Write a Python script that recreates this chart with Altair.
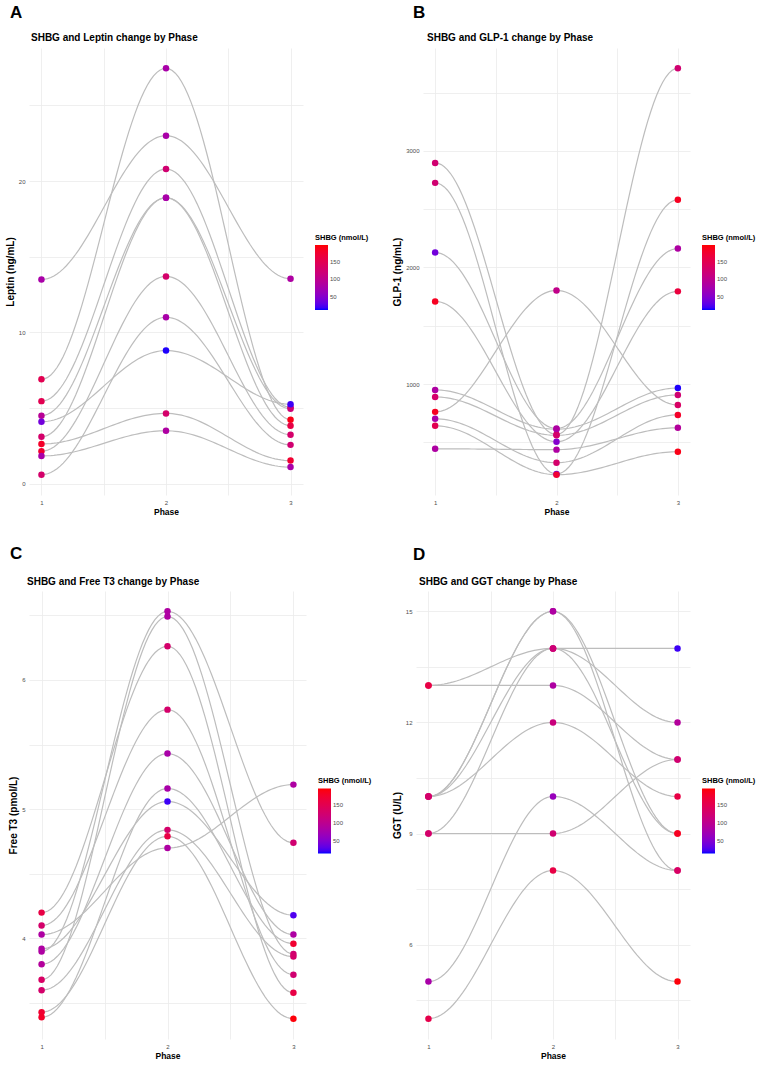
import altair as alt
import pandas as pd

FONT = "Liberation Sans"
PHASES = [1, 2, 3]
SHBG_TICKS = [50, 100, 150]
SHBG_DOMAIN = [13, 198]

# ---- Panel A: Leptin (ng/mL), one entry per subject, same subject order in every list
leptin_p1 = [13.5, 6.9, 5.46, 4.5, 4.1, 3.1, 2.63, 2.15, 1.84, 0.6]
leptin_p2 = [23.0, 27.45, 20.8, 18.9, 8.8, 18.9, 4.65, 13.7, 3.5, 11.0]
leptin_p3 = [13.55, 4.23, 5.05, 4.95, 5.26, 3.84, 1.53, 3.24, 1.1, 2.57]
leptin_shbg_p1 = [80, 150, 150, 95, 40, 130, 180, 175, 80, 130]
leptin_shbg_p2 = [80, 80, 125, 80, 15, 80, 130, 130, 85, 80]
leptin_shbg_p3 = [85, 190, 100, 120, 20, 160, 175, 130, 80, 125]

# ---- Panel B: GLP-1 (ng/mL)
glp1_p1 = [2897, 2726, 2128, 1709, 949, 889, 761, 701, 641, 444]
glp1_p2 = [566, 228, 618, 504, 612, 560, 1803, 325, 222, 437]
glp1_p3 = [3709, 2581, 2162, 1795, 966, 906, 820, 735, 419, 624]
glp1_shbg_p1 = [125, 125, 40, 185, 85, 130, 185, 80, 150, 85]
glp1_shbg_p2 = [130, 45, 85, 50, 85, 130, 105, 130, 175, 85]
glp1_shbg_p3 = [125, 185, 85, 165, 15, 125, 135, 180, 190, 90]

# ---- Panel C: Free T3 (pmol/L)
ft3_p1 = [4.20, 4.10, 4.03, 3.90, 3.80, 3.68, 3.60, 3.43, 3.39, 3.92]
ft3_p2 = [6.26, 5.77, 4.70, 6.53, 5.43, 6.49, 4.84, 4.79, 5.16, 5.06]
ft3_p3 = [3.58, 3.72, 5.19, 4.74, 4.03, 3.88, 3.86, 3.38, 3.96, 4.18]
ft3_shbg_p1 = [160, 130, 85, 85, 90, 135, 130, 175, 180, 85]
ft3_shbg_p2 = [130, 130, 85, 85, 80, 85, 130, 160, 80, 20]
ft3_shbg_p3 = [160, 125, 85, 125, 85, 125, 130, 195, 175, 25]

# ---- Panel D: GGT (U/L)
ggt_p1 = [13, 13, 10, 10, 10, 10, 9, 9, 5, 4]
ggt_p2 = [13, 14, 15, 15, 14, 12, 14, 9, 10, 8]
ggt_p3 = [11, 14, 9, 8, 12, 10, 9, 11, 8, 5]
ggt_shbg_p1 = [160, 160, 130, 130, 130, 130, 130, 130, 80, 155]
ggt_shbg_p2 = [85, 120, 85, 85, 120, 115, 120, 125, 65, 160]
ggt_shbg_p3 = [125, 20, 185, 135, 90, 160, 185, 125, 135, 195]


def panel(letter, letter_pos, title, title_pos, ytitle, vals, shbg,
          ygrid, ystep, width, height):
    n = len(vals[0])
    # long table of measured points
    pts = pd.DataFrame({
        "subject": [s for _ in PHASES for s in range(n)],
        "phase": [p for p in PHASES for _ in range(n)],
        "value": [v for series in vals for v in series],
        "shbg": [c for series in shbg for c in series],
    })
    # one row per subject and phase-to-phase step
    segs = pd.DataFrame([
        {"seg": f"{s}-{k}", "x0": PHASES[k], "x1": PHASES[k + 1],
         "y0": vals[k][s], "y1": vals[k + 1][s]}
        for s in range(n) for k in range(len(PHASES) - 1)
    ])

    lo, hi = pts["value"].min(), pts["value"].max()
    pad = 0.05 * (hi - lo)
    yscale = alt.Scale(domain=[lo - pad, hi + pad], nice=False, zero=False)
    xscale = alt.Scale(domain=[0.9, 3.1], nice=False, zero=False)

    # major + minor grid positions; only the major ones carry a label
    xaxis = alt.Axis(values=[1, 1.5, 2, 2.5, 3], tickCount=50, tickMinStep=0.5,
                     labelExpr="abs(datum.value % 1) < 1e-9 ? format(datum.value, 'd') : ''",
                     labelOverlap=False, titleFontSize=8.5,
                     titlePadding=2, labelPadding=4)
    yaxis = alt.Axis(values=ygrid, tickCount=50,
                     tickMinStep=ygrid[1] - ygrid[0],
                     labelExpr=f"abs(datum.value % {ystep}) < 1e-9 ? format(datum.value, 'd') : ''",
                     labelOverlap=False, titleFontSize=10,
                     titlePadding=3, labelPadding=4)

    # sigmoid connector between consecutive phases
    curves = alt.Chart(segs).transform_calculate(
        t="sequence(0, 1.0001, 0.025)"
    ).transform_flatten(["t"]).transform_calculate(
        px="datum.x0 + datum.t * (datum.x1 - datum.x0)",
        py="datum.y0 + (datum.y1 - datum.y0) * (1 - cos(PI * datum.t)) / 2",
    ).mark_line(color="#bdbdbd", strokeWidth=1.2).encode(
        x=alt.X("px:Q", scale=xscale, axis=xaxis, title="Phase"),
        y=alt.Y("py:Q", scale=yscale, axis=yaxis, title=ytitle),
        detail="seg:N",
        order="px:Q",
    )

    points = alt.Chart(pts).mark_circle(size=42, opacity=1).encode(
        x=alt.X("phase:Q", scale=xscale, axis=xaxis, title="Phase"),
        y=alt.Y("value:Q", scale=yscale, axis=yaxis, title=ytitle),
        color=alt.Color(
            "shbg:Q",
            scale=alt.Scale(domain=SHBG_DOMAIN, range=["#0000ff", "#ff0000"],
                            interpolate="lab"),
            legend=alt.Legend(
                title="SHBG (nmol/L)", orient="none",
                legendX=width + 12, legendY=height / 2 - 38,
                values=SHBG_TICKS, gradientLength=65, gradientThickness=13,
                titleFontSize=7.5, titleFontWeight="bold", titleFont=FONT,
                titleColor="#000000", titlePadding=4,
                labelFontSize=6, labelFont=FONT, labelColor="#4d4d4d",
                direction="vertical",
            ),
        ),
    )

    # panel tag and panel heading
    heads = pd.DataFrame({"txt": [letter, title], "kind": ["tag", "head"]})
    tag = alt.Chart(heads).transform_filter("datum.kind == 'tag'").mark_text(
        align="left", baseline="alphabetic", fontSize=17, fontWeight="bold",
        font=FONT, color="#000000",
    ).encode(x=alt.value(letter_pos[0]), y=alt.value(letter_pos[1]), text="txt:N")
    head = alt.Chart(heads).transform_filter("datum.kind == 'head'").mark_text(
        align="left", baseline="alphabetic", fontSize=10, fontWeight="bold",
        font=FONT, color="#000000",
    ).encode(x=alt.value(title_pos[0]), y=alt.value(title_pos[1]), text="txt:N")

    return alt.layer(curves, points, tag, head).properties(
        width=width, height=height,
    )


a = panel("A", (-19, -30), "SHBG and Leptin change by Phase", (2, -7),
          "Leptin (ng/mL)",
          [leptin_p1, leptin_p2, leptin_p3],
          [leptin_shbg_p1, leptin_shbg_p2, leptin_shbg_p3],
          [0, 5, 10, 15, 20, 25], 10, 274, 447)
b = panel("B", (-10, -30), "SHBG and GLP-1 change by Phase", (4, -7),
          "GLP-1 (ng/mL)",
          [glp1_p1, glp1_p2, glp1_p3],
          [glp1_shbg_p1, glp1_shbg_p2, glp1_shbg_p3],
          [500, 1000, 1500, 2000, 2500, 3000, 3500], 1000, 267, 447)
c = panel("C", (-19, -32), "SHBG and Free T3 change by Phase", (-2, -6),
          "Free T3 (pmol/L)",
          [ft3_p1, ft3_p2, ft3_p3],
          [ft3_shbg_p1, ft3_shbg_p2, ft3_shbg_p3],
          [3.5, 4, 4.5, 5, 5.5, 6, 6.5], 1, 277, 448)
d = panel("D", (-3, -31), "SHBG and GGT change by Phase", (3, -6),
          "GGT (U/L)",
          [ggt_p1, ggt_p2, ggt_p3],
          [ggt_shbg_p1, ggt_shbg_p2, ggt_shbg_p3],
          [4.5, 6, 7.5, 9, 10.5, 12, 13.5, 15], 3, 274, 448)

row1 = alt.hconcat(a, b, spacing=23).resolve_scale(color="independent", x="independent", y="independent")
row2 = alt.hconcat(c, d, spacing=20).resolve_scale(color="independent", x="independent", y="independent")

chart = alt.vconcat(row1, row2, spacing=29).resolve_scale(
    color="independent", x="independent", y="independent"
).properties(
    padding={"left": 5, "top": 4, "right": 0, "bottom": 0},
    background="#ffffff",
).configure_view(stroke=None).configure_axis(
    domain=False, ticks=False, grid=True, gridColor="#ebebeb", gridWidth=0.8,
    labelFont=FONT, labelFontSize=6, labelColor="#4d4d4d",
    titleFont=FONT, titleFontWeight="bold", titleColor="#000000",
)

chart.save("out.html", embed_options={"renderer": "svg", "actions": False})
